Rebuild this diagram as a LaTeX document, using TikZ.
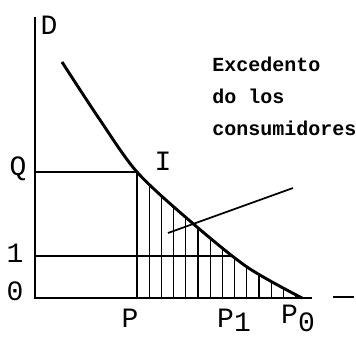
\documentclass[tikz,border=0pt]{standalone}
\usepackage{fontspec}
\setmonofont{Liberation Mono}
\usetikzlibrary{positioning, calc}

\begin{document}
\begin{tikzpicture}[
      x=0.75pt, y=-0.75pt,
      axis/.style={line width=1.2pt},
      demand/.style={line width=2.2pt},
      hatch/.style={line width=0.9pt},
      pointer/.style={line width=1.3pt},
      lbl/.style={inner sep=0pt, font=\ttfamily\fontsize{21}{21}\selectfont},
      note/.style={inner sep=0pt, align=left, anchor=north west,
                   font=\ttfamily\bfseries\fontsize{15}{24}\selectfont}
    ]
    \useasboundingbox (0,0) rectangle (356,338);

    % axes
    \coordinate (top) at (35,17);
    \coordinate (orig) at (35,298);
    \coordinate (xend) at (312,298);
    \draw[axis] (top) -- (orig) -- (xend);
    \draw[axis] (333,297) -- (354,297);

    % demand curve
    \coordinate (i) at (137,172);
    \coordinate (p0) at (302,298);
    \draw[demand] plot[smooth] coordinates {(62,62) (98,117) (i) (190,221) (247,267) (p0)};

    % price / quantity lines
    \coordinate (q) at (35,172);
    \coordinate (p) at (137,298);
    \draw[axis] (q) -- (i) -- (p);

    % area under the curve
    \begin{scope}
      \clip (orig) -- (q) -- plot[smooth] coordinates {(i) (190,221) (247,267) (p0)} -- cycle;
      \draw[axis] (35,256) -- (356,256);
      \foreach \k in {1,...,13}
        \draw[hatch] ({137+12.2*\k},298) -- ({137+12.2*\k},150);
    \end{scope}

    % labels
    \node[lbl] (dlab) at (49,25) {D};
    \node[lbl] (qlab) at (18,169) {Q};
    \node[lbl] (onelab) at (15,253) {1};
    \node[lbl] (zerolab) at (15,291) {0};
    \node[lbl] (ilab) at (163,161) {I};
    \node[lbl] (plab) at (130,318) {P};
    \node[lbl] (p1lab) at (234,320) {P\raisebox{-3pt}{1}};
    \node[lbl] (p0lab) at (298,318) {P\raisebox{-6pt}{0}};

    \node[note] (exc) at (212,57) {Excedento\\do los\\consumidores};

    \coordinate (ptrfrom) at (293,188);
    \coordinate (ptrto) at (168,233);
    \draw[pointer] (ptrfrom) -- (ptrto);
  \end{tikzpicture}
\end{document}
